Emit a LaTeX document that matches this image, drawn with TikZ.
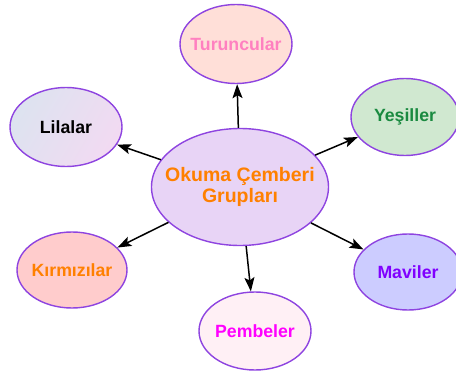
\documentclass[tikz,border=0pt]{standalone}
\usepackage{fontspec}
\setmainfont{Liberation Sans}
\usepackage{xcolor}
\usetikzlibrary{shapes.geometric,arrows.meta}
\definecolor{rim}{HTML}{8E44E0}
\definecolor{hubbg}{HTML}{E8D4F6}
\definecolor{turbg}{HTML}{FFDFD8}
\definecolor{turtx}{HTML}{FF80C0}
\definecolor{yesbg}{HTML}{D0E8D0}
\definecolor{yestx}{HTML}{1A8A40}
\definecolor{kirbg}{HTML}{FFCCCC}
\definecolor{orng}{HTML}{FF8000}
\definecolor{pembg}{HTML}{FFF0F5}
\definecolor{pemtx}{HTML}{FF00FF}
\definecolor{mavbg}{HTML}{CCCCFF}
\definecolor{mavtx}{HTML}{8000FF}
\definecolor{lilA}{HTML}{DDE3F0}
\definecolor{lilB}{HTML}{F2DAF2}

\tikzset{
  group/.style={ellipse, draw=rim, line width=1.4pt, inner sep=-20pt,
    minimum width=112pt, minimum height=79pt, font=\fontsize{17.7}{19}\selectfont\bfseries},
  link/.style={line width=1.5pt, -{Stealth[length=14pt,width=10pt,inset=3pt]}}
}

\begin{document}
\begin{tikzpicture}[x=1pt, y=-1pt]
  \useasboundingbox (0,0) rectangle (456,372);

  % hub
  \node[ellipse, draw=rim, line width=1.4pt, fill=hubbg, inner sep=-20pt,
    minimum width=177pt, minimum height=117pt, text=orng, align=center,
    font=\fontsize{19.5}{21}\selectfont\bfseries] (hub) at (240,187)
    {Okuma Çemberi\\Grupları};

  % groups
  \node[group, fill=turbg, text=turtx] (tur) at (236,44) {Turuncular};
  \node[group, left color=lilA, right color=lilB, shading angle=60] (lil) at (66,127) {Lilalar};
  \node[group, fill=yesbg, text=yestx, minimum width=108pt, minimum height=77pt] (yes) at (405,117) {Yeşiller};
  \node[group, fill=kirbg, text=orng, minimum width=110pt, minimum height=76pt] (kir) at (72,270) {Kırmızılar};
  \node[group, fill=pembg, text=pemtx, minimum height=78pt] (pem) at (255,331) {Pembeler};
  \node[group, fill=mavbg, text=mavtx, minimum width=108pt, minimum height=76pt] (mav) at (408,272) {Maviler};

  % links
  \draw[link] (hub) -- (tur);
  \draw[link] (hub) -- (lil);
  \draw[link] (hub) -- (yes);
  \draw[link] (hub) -- (kir);
  \draw[link] (hub) -- (pem);
  \draw[link] (hub) -- (mav);
\end{tikzpicture}
\end{document}
